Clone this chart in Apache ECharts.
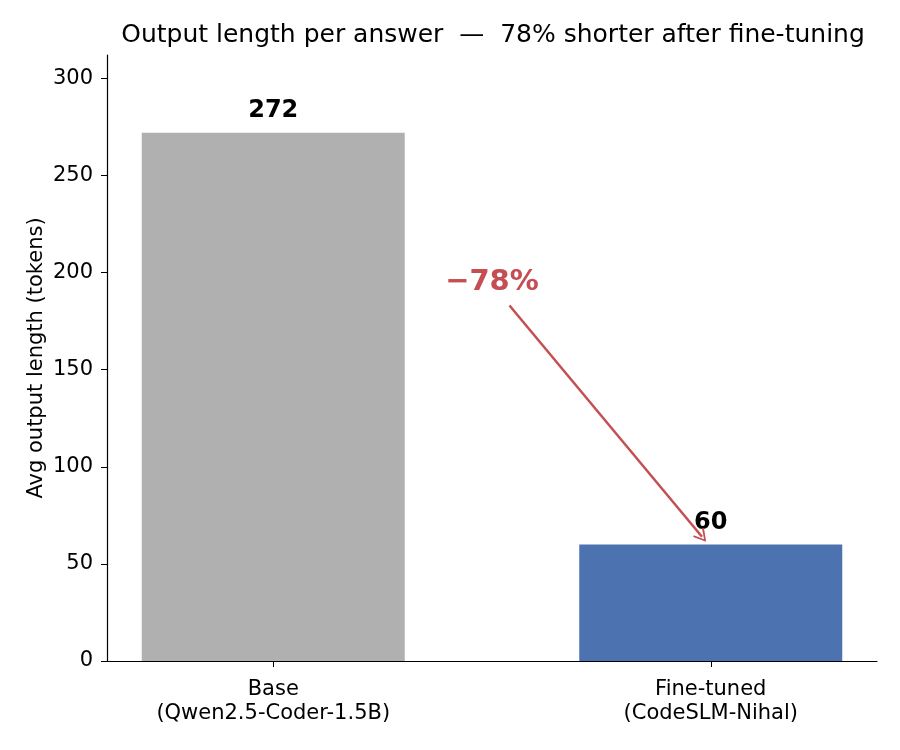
<!DOCTYPE html>
<html>
<head>
<meta charset="utf-8">
<script src="https://cdn.jsdelivr.net/npm/echarts@6/dist/echarts.min.js"></script>
<style>
  html, body { margin: 0; padding: 0; background: #fff; }
  #chart { width: 900px; height: 750px; }
</style>
</head>
<body>
<div id="chart"></div>
<script>
// categories and values
var categories = ['Base\n(Qwen2.5-Coder-1.5B)', 'Fine-tuned\n(CodeSLM-Nihal)']
var tokens = [272, 60]
var barColors = ['#b0b0b0', '#4c72b0']
var yTicks = [0, 50, 100, 150, 200, 250, 300]

// reduction arrow (data coords), from label to the fine-tuned bar
var arrowFrom = [0.54, 183]
var arrowTo = [0.98, 64]
var arrowText = '\u221278%'
var arrowTextAt = [0.5, 195]

var font = 'DejaVu Sans'
var chart = echarts.init(document.getElementById('chart'))

chart.setOption({
  backgroundColor: '#fff',
  animation: false,
  title: {
    text: 'Output length per answer  \u2014  78% shorter after fine-tuning',
    left: 488,
    top: 18,
    textAlign: 'center',
    textStyle: { fontFamily: font, fontWeight: 'normal', fontSize: 25, color: '#000' }
  },
  grid: { left: 107, right: 23, top: 55, bottom: 89 },
  xAxis: {
    type: 'value',
    min: -0.38,
    max: 1.38,
    axisLine: { onZero: false, lineStyle: { color: '#000', width: 1.2 } },
    axisTick: { customValues: [0, 1], length: 6, lineStyle: { color: '#000' } },
    axisLabel: {
      customValues: [0, 1],
      margin: 17,
      lineHeight: 24,
      fontFamily: font,
      fontSize: 21,
      color: '#000',
      formatter: function(v) { return categories[Math.round(v)] }
    },
    splitLine: { show: false }
  },
  yAxis: {
    type: 'value',
    min: 0,
    max: 312,
    interval: 50,
    name: 'Avg output length (tokens)',
    nameLocation: 'middle',
    nameGap: 60,
    nameMoveOverlap: false,
    nameTextStyle: { fontFamily: font, fontSize: 21, color: '#000' },
    axisLine: { show: true, onZero: false, lineStyle: { color: '#000', width: 1.2 } },
    axisTick: { show: true, customValues: yTicks, length: 6, lineStyle: { color: '#000' } },
    axisLabel: { customValues: yTicks, margin: 14, fontFamily: font, fontSize: 21, color: '#000' },
    splitLine: { show: false }
  },
  series: [{
    type: 'bar',
    barWidth: 263,
    data: tokens.map(function(v, i) {
      return { value: [i, v], itemStyle: { color: barColors[i] } }
    }),
    label: {
      show: true,
      position: 'top',
      distance: 10,
      fontFamily: font,
      fontWeight: 'bold',
      fontSize: 24,
      color: '#000',
      formatter: function(p) { return p.value[1] }
    },
    markLine: {
      silent: true,
      symbol: ['none', 'path://M0,0 L6,10 L4.6,11 L0,2.8 L-4.6,11 L-6,10 Z'],
      symbolSize: [14, 13],
      lineStyle: { color: '#c44e52', width: 2.5, type: 'solid' },
      label: { show: false },
      data: [[{ coord: arrowFrom }, { coord: arrowTo }]]
    },
    markPoint: {
      silent: true,
      symbolSize: 0,
      label: {
        show: true,
        position: 'inside',
        fontFamily: font,
        fontWeight: 'bold',
        fontSize: 29,
        color: '#c44e52',
        formatter: arrowText
      },
      data: [{ coord: arrowTextAt, value: 0 }]
    }
  }]
})
</script>
</body>
</html>
